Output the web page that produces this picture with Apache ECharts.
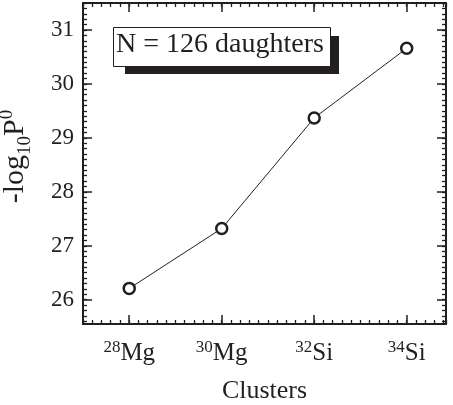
<!DOCTYPE html>
<html><head><meta charset="utf-8">
<script src="https://cdn.jsdelivr.net/npm/echarts@6/dist/echarts.min.js"></script>
<style>html,body{margin:0;padding:0;background:#fff}#c{width:453px;height:405px}</style>
</head><body><div id="c"></div>
<script>
// Data
const clusterMass = [28, 30, 32, 34];
const clusterElem = ['Mg', 'Mg', 'Si', 'Si'];
const logP0 = [26.21, 27.32, 29.37, 30.66];
const yTickLabels = [26, 27, 28, 29, 30, 31];
const boxText = 'N = 126 daughters';

const X_MIN = 27, X_MAX = 34.85, Y_MIN = 25.55, Y_MAX = 31.5;
const yMinor = [];
for (let k = Math.ceil(Y_MIN * 10); k <= Math.floor(Y_MAX * 10); k++) yMinor.push(k / 10);

const FONT = 'Liberation Serif';
const INK = '#231f20';

function xFmt(v) {
  const i = clusterMass.indexOf(v);
  if (i < 0) return '';
  return '{sup|' + clusterMass[i] + '}{el|' + clusterElem[i] + '}';
}

const baseX = { type: 'value', min: X_MIN, max: X_MAX, splitLine: { show: false } };
const baseY = { type: 'value', min: Y_MIN, max: Y_MAX, splitLine: { show: false } };
const line = { show: true, onZero: false, lineStyle: { color: INK, width: 2 } };
const noLine = { show: false };

const chart = echarts.init(document.getElementById('c'));
chart.setOption({
  animation: false,
  textStyle: { fontFamily: FONT },
  grid: { left: 83, right: 7, top: 3, bottom: 81, containLabel: false, outerBoundsMode: 'none' },
  xAxis: [
    Object.assign({}, baseX, {
      position: 'bottom', axisLine: line,
      axisTick: { show: true, inside: true, length: 9, customValues: clusterMass, lineStyle: { color: INK, width: 1.5 } },
      axisLabel: { show: true, customValues: clusterMass, formatter: xFmt, margin: 15,
        rich: {
          sup: { fontFamily: FONT, fontSize: 17, color: INK, verticalAlign: 'top', lineHeight: 24 },
          el: { fontFamily: FONT, fontSize: 25, color: INK, lineHeight: 28 }
        } },
      name: '{n|Clusters}', nameLocation: 'middle', nameGap: 54,
      nameTextStyle: { rich: { n: { fontFamily: FONT, fontSize: 26, color: INK } } }
    }),
    Object.assign({}, baseX, {
      position: 'bottom', axisLine: noLine, interval: 0.2,
      axisTick: { show: true, inside: true, length: 4, lineStyle: { color: INK, width: 1.3 } },
      axisLabel: { show: false }
    }),
    Object.assign({}, baseX, {
      position: 'top', axisLine: line,
      axisTick: { show: true, inside: true, length: 9, customValues: clusterMass, lineStyle: { color: INK, width: 1.5 } },
      axisLabel: { show: false }
    }),
    Object.assign({}, baseX, {
      position: 'top', axisLine: noLine, interval: 0.2,
      axisTick: { show: true, inside: true, length: 4, lineStyle: { color: INK, width: 1.3 } },
      axisLabel: { show: false }
    })
  ],
  yAxis: [
    Object.assign({}, baseY, {
      position: 'left', axisLine: line,
      axisTick: { show: true, inside: true, length: 9, customValues: yTickLabels, lineStyle: { color: INK, width: 1.5 } },
      axisLabel: { show: true, customValues: yTickLabels, margin: 9,
        formatter: v => '{a|' + v + '}',
        rich: { a: { fontFamily: FONT, fontSize: 23, color: INK } } },
      name: '{t|-log}{s|10}{t|P}{p|0}', nameLocation: 'middle', nameGap: 53, nameRotate: 90,
      nameTextStyle: {
        padding: [0, 0, 0, 14],
        rich: {
          t: { fontFamily: FONT, fontSize: 30, color: INK, lineHeight: 34, verticalAlign: 'bottom' },
          s: { fontFamily: FONT, fontSize: 19, color: INK, lineHeight: 34, verticalAlign: 'bottom', padding: [0, 0, -5, 0] },
          p: { fontFamily: FONT, fontSize: 19, color: INK, lineHeight: 34, verticalAlign: 'top', padding: [2, 0, 0, 0] }
        }
      }
    }),
    Object.assign({}, baseY, {
      position: 'left', axisLine: noLine,
      axisTick: { show: true, inside: true, length: 4, customValues: yMinor, lineStyle: { color: INK, width: 1.3 } },
      axisLabel: { show: false }
    }),
    Object.assign({}, baseY, {
      position: 'right', axisLine: line,
      axisTick: { show: true, inside: true, length: 9, customValues: yTickLabels, lineStyle: { color: INK, width: 1.5 } },
      axisLabel: { show: false }
    }),
    Object.assign({}, baseY, {
      position: 'right', axisLine: noLine,
      axisTick: { show: true, inside: true, length: 4, customValues: yMinor, lineStyle: { color: INK, width: 1.3 } },
      axisLabel: { show: false }
    })
  ],
  series: [{
    type: 'line', xAxisIndex: 0, yAxisIndex: 0,
    data: clusterMass.map((m, i) => [m, logP0[i]]),
    symbol: 'circle', symbolSize: 11,
    itemStyle: { color: '#fff', borderColor: INK, borderWidth: 2.5 },
    lineStyle: { color: INK, width: 1 },
    z: 5
  }],
  graphic: [
    { type: 'rect', left: 125, top: 36, z: 10, shape: { width: 214, height: 38 }, style: { fill: INK } },
    { type: 'rect', left: 113, top: 27, z: 11, shape: { width: 217, height: 39 }, style: { fill: '#fff', stroke: INK, lineWidth: 1 } },
    { type: 'text', left: 116, top: 31, z: 12, style: { text: boxText, fontFamily: FONT, fontSize: 28, fill: INK } }
  ]
});
</script>
</body></html>
